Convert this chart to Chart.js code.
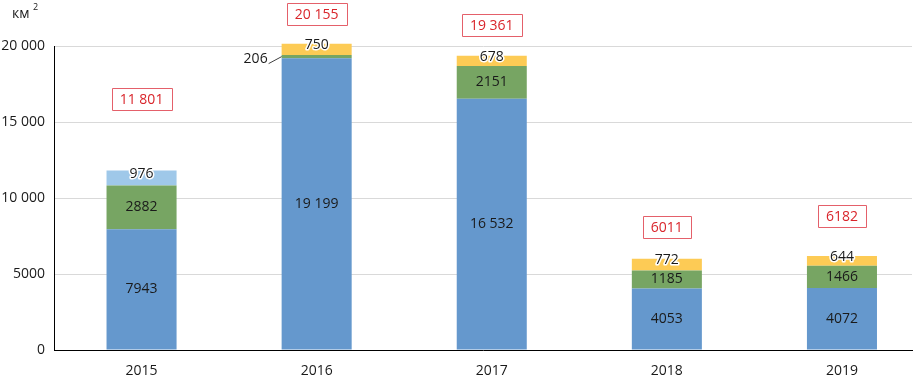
<!DOCTYPE html>
<html>
<head>
<meta charset="utf-8">
<script src="https://cdn.jsdelivr.net/npm/chart.js@4"></script>
<style>
  html, body { margin: 0; padding: 0; background: #ffffff; }
  #wrap { position: relative; width: 917px; height: 381px; }
</style>
</head>
<body>
<div id="wrap"><canvas id="chart"></canvas></div>
<script>
// ---------------------------------------------------------------------------
// Data
// ---------------------------------------------------------------------------
const years = ['2015', '2016', '2017', '2018', '2019'];
const seriesBlue = [7943, 19199, 16532, 4053, 4072];
const seriesGreen = [2882, 206, 2151, 1185, 1466];
const seriesLightBlue = [976, null, null, null, null];
const seriesYellow = [null, 750, 678, 772, 644];
const totals = ['11 801', '20 155', '19 361', '6011', '6182'];
const yTicks = [0, 5000, 10000, 15000, 20000];

// ---------------------------------------------------------------------------
// Styles
// ---------------------------------------------------------------------------
const COLORS = {
    blue: '#6598cd',
    green: '#77a563',
    lightBlue: '#9fc8e9',
    yellow: '#fdcb55',
    grid: '#d9d9d9',
    axis: '#000000',
    text: '#1a1a1a',
    red: '#d9252b',
    redBorder: '#e4606a'
};
const FONT = '"Open Sans", "Liberation Sans", sans-serif';
// vertical gap (px) between bar top and centre of the total box
const totalBoxGap = [72, 30, 31, 32, 40];

function fmt(v) {
    if (v >= 10000) return String(v).replace(/\B(?=(\d{3})+(?!\d))/g, ' ');
    return String(v);
}

function toPoints(values) {
    return values.map((v, i) => ({ x: i, y: v }));
}

// ---------------------------------------------------------------------------
// Label plugin
// ---------------------------------------------------------------------------
const labelPlugin = {
    id: 'segmentLabels',
    afterDatasetsDraw(chart) {
        const ctx = chart.ctx;
        ctx.save();
        ctx.font = '14px ' + FONT;
        ctx.textBaseline = 'middle';
        ctx.textAlign = 'center';

        chart.data.datasets.forEach((ds, di) => {
            const meta = chart.getDatasetMeta(di);
            meta.data.forEach((bar, i) => {
                const v = ds.data[i].y;
                if (v == null) return;
                const top = bar.y, bottom = bar.base;
                const h = bottom - top;
                const text = fmt(v);
                if (h < 8) {
                    // tiny segment: label on the left with a leader line
                    const left = bar.x - bar.width / 2;
                    const cy = (top + bottom) / 2;
                    ctx.strokeStyle = '#404040';
                    ctx.lineWidth = 1;
                    ctx.beginPath();
                    ctx.moveTo(left - 13, cy + 7);
                    ctx.lineTo(left, cy);
                    ctx.stroke();
                    ctx.textAlign = 'right';
                    ctx.fillStyle = COLORS.text;
                    ctx.fillText(text, left - 14, cy + 2);
                    ctx.textAlign = 'center';
                    return;
                }
                let cy = (top + bottom) / 2;
                if (h < 16) {
                    cy -= 4;
                    ctx.lineWidth = 3;
                    ctx.strokeStyle = '#ffffff';
                    ctx.lineJoin = 'round';
                    ctx.strokeText(text, bar.x, cy);
                }
                ctx.fillStyle = COLORS.text;
                ctx.fillText(text, bar.x, cy);
            });
        });

        // totals in red boxes
        const metas = chart.data.datasets.map((_, di) => chart.getDatasetMeta(di));
        ctx.font = '14px ' + FONT;
        totals.forEach((t, i) => {
            let topY = Infinity, x = 0;
            metas.forEach((m, di) => {
                if (chart.data.datasets[di].data[i].y == null) return;
                topY = Math.min(topY, m.data[i].y);
                x = m.data[i].x;
            });
            const cy = topY - totalBoxGap[i];
            const w = Math.round(ctx.measureText(t).width + 16);
            const h = 22;
            const bx = Math.round(x - w / 2) + 0.5;
            const by = Math.round(cy - h / 2) + 0.5;
            ctx.fillStyle = '#ffffff';
            ctx.fillRect(bx, by, w, h);
            ctx.strokeStyle = COLORS.redBorder;
            ctx.lineWidth = 1;
            ctx.strokeRect(bx, by, w, h);
            ctx.fillStyle = COLORS.red;
            ctx.fillText(t, x, cy + 1);
        });

        // unit label
        ctx.font = '14px ' + FONT;
        ctx.fillStyle = COLORS.text;
        ctx.textAlign = 'left';
        ctx.fillText('км', 12, 14);
        ctx.font = '9px ' + FONT;
        ctx.fillText('2', 33, 7);
        ctx.restore();
    }
};

// ---------------------------------------------------------------------------
// Chart
// ---------------------------------------------------------------------------
function makeDataset(label, values, color) {
    return {
        label,
        data: toPoints(values),
        backgroundColor: color,
        borderWidth: 0,
        barPercentage: 0.4,
        categoryPercentage: 1,
        clip: false
    };
}

new Chart(document.getElementById('chart'), {
    type: 'bar',
    data: {
        datasets: [
            makeDataset('blue', seriesBlue, COLORS.blue),
            makeDataset('green', seriesGreen, COLORS.green),
            makeDataset('lightBlue', seriesLightBlue, COLORS.lightBlue),
            makeDataset('yellow', seriesYellow, COLORS.yellow)
        ]
    },
    options: {
        responsive: true,
        maintainAspectRatio: false,
        animation: false,
        layout: { padding: { top: 46, right: 5, left: 0, bottom: 0 } },
        plugins: {
            legend: { display: false },
            tooltip: { enabled: false }
        },
        scales: {
            x: {
                type: 'linear',
                stacked: true,
                offset: false,
                min: -0.5,
                max: 4.4,
                afterBuildTicks: (scale) => { scale.ticks = years.map((_, i) => ({ value: i })); },
                grid: { display: false, drawTicks: false, offset: false },
                border: { color: COLORS.axis, width: 1 },
                ticks: {
                    color: COLORS.text,
                    font: { family: FONT, size: 14 },
                    padding: 13,
                    callback: (v) => years[v]
                },
                afterFit: (scale) => { scale.height = 31; }
            },
            y: {
                stacked: true,
                min: 0,
                max: 20000,
                afterBuildTicks: (scale) => { scale.ticks = yTicks.map(v => ({ value: v })); },
                grid: { color: COLORS.grid, drawTicks: false },
                border: { color: COLORS.axis, width: 1 },
                ticks: {
                    color: COLORS.text,
                    font: { family: FONT, size: 14 },
                    padding: 9,
                    callback: (v) => fmt(v)
                },
                afterFit: (scale) => { scale.width = 54; }
            }
        }
    },
    plugins: [labelPlugin]
});
</script>
</body>
</html>
